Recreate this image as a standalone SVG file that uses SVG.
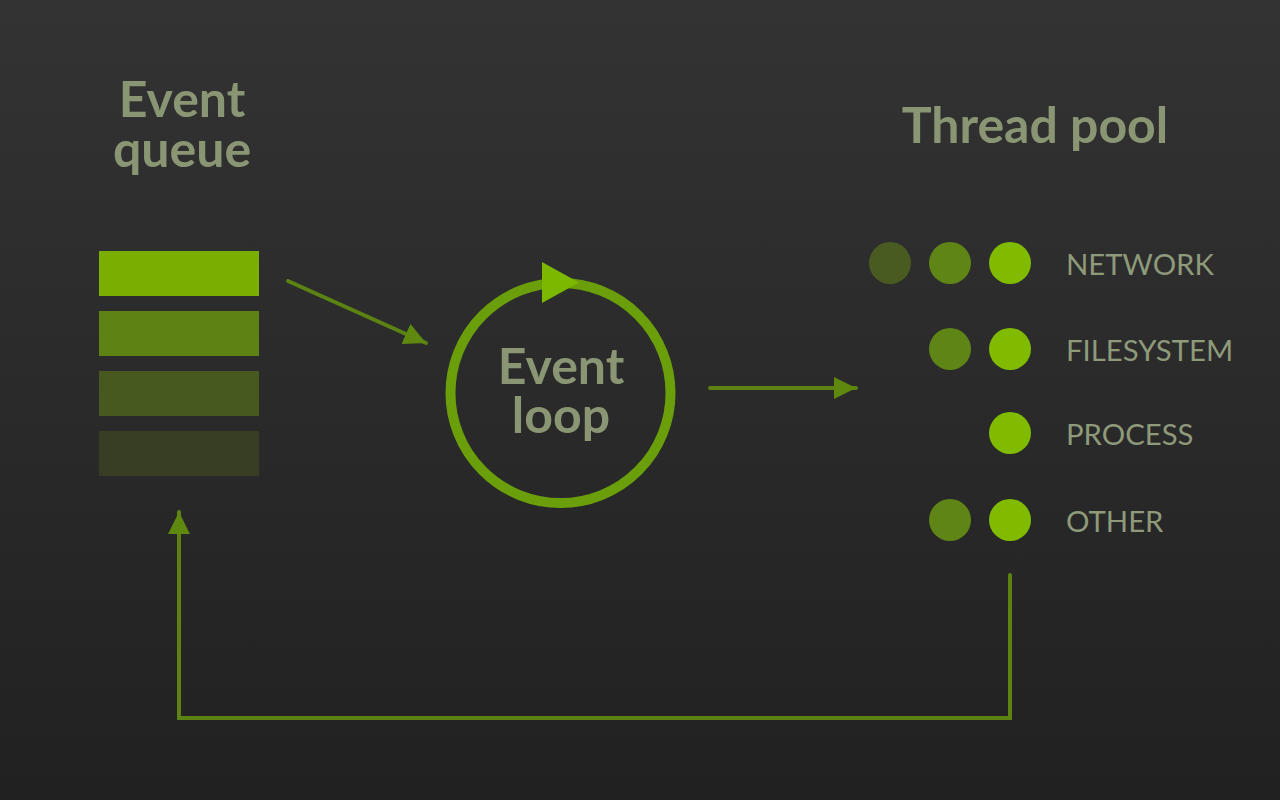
<svg xmlns="http://www.w3.org/2000/svg" width="1280" height="800" viewBox="0 0 1280 800">
<defs>
<linearGradient id="bg" x1="0" y1="0" x2="0" y2="1">
<stop offset="0" stop-color="#333333"/>
<stop offset="1" stop-color="#212121"/>
</linearGradient>
<marker id="ah" markerUnits="userSpaceOnUse" markerWidth="22" markerHeight="22" viewBox="0 0 10 10" refX="10" refY="5" orient="auto">
<path d="M0,0 L10,5 L0,10 z" fill="#5f880f"/>
</marker>
<style>
.title{font-family:Lato,"Liberation Sans",sans-serif;font-weight:bold;font-size:50px;fill:#8a9574;text-anchor:middle}
.lbl{font-family:Lato,"Liberation Sans",sans-serif;font-size:29.3px;fill:#8e9a7a}
.conn{fill:none;stroke:#5b8212;stroke-width:4;stroke-linecap:round}
.d1{fill:#80bb00}.d2{fill:#5f8516}.d3{fill:#4a5b22}
</style>
</defs>
<rect width="1280" height="800" fill="url(#bg)"/>
<g id="event-queue">
<text class="title"><tspan x="182" y="117">Event</tspan><tspan x="182" y="167">queue</tspan></text>
<rect x="99" y="251" width="160" height="45" fill="#7aae00"/>
<rect x="99" y="311" width="160" height="45" fill="#5f8214"/>
<rect x="99" y="371" width="160" height="45" fill="#48591f"/>
<rect x="99" y="431" width="160" height="45" fill="#373e24"/>
</g>
<g id="event-loop">
<circle cx="560.5" cy="393" r="110" fill="none" stroke="#6a9e0a" stroke-width="10"/>
<path d="M542,262 L579,282.5 L542,303 z" fill="#7cb800"/>
<text class="title"><tspan x="561" y="384">Event</tspan><tspan x="561" y="433">loop</tspan></text>
</g>
<g id="thread-pool">
<text class="title" x="1035" y="143">Thread pool</text>
<circle class="d3" cx="890" cy="263" r="21"/>
<circle class="d2" cx="950" cy="263" r="21"/>
<circle class="d1" cx="1010" cy="263" r="21"/>
<text class="lbl" x="1066" y="275">NETWORK</text>
<circle class="d2" cx="950" cy="349" r="21"/>
<circle class="d1" cx="1010" cy="349" r="21"/>
<text class="lbl" x="1066" y="361">FILESYSTEM</text>
<circle class="d1" cx="1010" cy="433" r="21"/>
<text class="lbl" x="1066" y="445">PROCESS</text>
<circle class="d2" cx="950" cy="520" r="21"/>
<circle class="d1" cx="1010" cy="520" r="21"/>
<text class="lbl" x="1066" y="532">OTHER</text>
</g>
<g id="connectors">
<path class="conn" d="M288,281 L426,343" marker-end="url(#ah)"/>
<path class="conn" d="M710,388 L856,388" marker-end="url(#ah)"/>
<path class="conn" d="M1010,575 L1010,718 L179,718 L179,512" stroke-linecap="butt" marker-end="url(#ah)"/>
</g>
</svg>
